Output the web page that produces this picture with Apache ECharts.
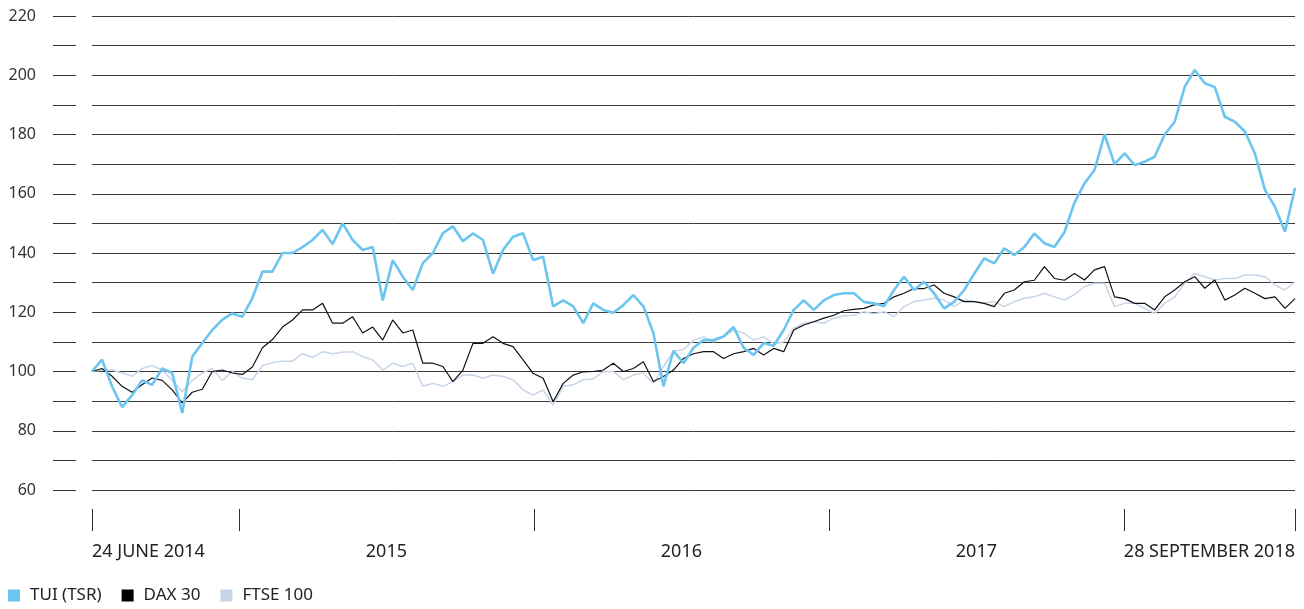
<!DOCTYPE html>
<html>
<head>
<meta charset="utf-8">
<script src="https://cdn.jsdelivr.net/npm/echarts@6/dist/echarts.min.js"></script>
<style>
  html, body { margin: 0; padding: 0; background: #fff; }
  #main { width: 1304px; height: 609px; }
</style>
</head>
<body>
<div id="main"></div>
<script>
// period covered: 24 June 2014 .. 28 September 2018, samples evenly spaced in time
var START = 2014.502;
var END = 2018.58;
var yearTicks = [START, 2015, 2016, 2017, 2018, END];
var xLabels = ['24 JUNE 2014', '2015', '2016', '2017', '28 SEPTEMBER 2018'];
var xLabelAt = [START, 2015.5, 2016.5, 2017.5, END];

// rebased to 100
var tui = [
  100, 104, 95, 88, 92, 97, 95.5, 101, 99.5, 86,
  105, 109.6, 114, 117.5, 119.6, 118.5, 124.8, 133.7, 133.7, 140,
  140, 142, 144.4, 147.8, 143, 150, 144.4, 141, 142, 124,
  137.6, 132, 127.5, 136.6, 140, 146.7, 149, 144, 146.6, 144.4,
  133, 141, 145.5, 146.7, 137.6, 138.7, 122, 124, 122, 116.3,
  123, 120.8, 119.8, 122.4, 125.8, 122, 113, 95, 107, 102.8,
  108, 110.6, 110.6, 111.8, 115, 108, 105.6, 109.6, 108.7, 114,
  120.8, 124, 120.8, 124, 125.8, 126.4, 126.4, 123.5, 123, 122,
  127.5, 132, 127.5, 130.3, 126.4, 121.3, 123.5, 127.5, 133, 138.2,
  136.5, 141.6, 139.3, 142, 146.6, 143.3, 142, 147, 157, 163.5,
  168, 180, 170, 173.6, 169.7, 170.8, 172.5, 180, 184.3, 196.1,
  201.8, 197.3, 196, 186, 184.3, 181, 173.6, 161.3, 155.6, 147.2,
  162
];
var dax = [
  100, 101, 98.4, 95, 93, 95.5, 97.8, 97, 93.8, 89.4,
  93, 94, 100, 100.5, 99.5, 99, 101.5, 108, 110.8, 115,
  117.4, 120.8, 120.8, 123, 116.3, 116.3, 118.5, 113, 115, 110.6,
  117.4, 113, 114, 102.8, 102.8, 101.7, 96.6, 100.5, 109.5, 109.5,
  111.7, 109.5, 108.4, 103.9, 99.4, 97.7, 89.8, 96, 98.8, 99.9,
  100, 100.5, 102.8, 100, 101, 103.3, 96.6, 98.3, 100.5, 104.4,
  106, 106.7, 106.7, 104.4, 106, 106.7, 107.8, 105.6, 107.8, 106.7,
  114, 115.7, 116.8, 118, 119, 120.5, 121, 121.3, 122.5, 123,
  125.2, 126.4, 128, 128, 129.2, 126.4, 125.2, 123.6, 123.6, 123,
  121.9, 126.4, 127.5, 130.3, 130.8, 135.4, 131.4, 130.8, 133.1, 130.9,
  134.3, 135.4, 125.2, 124.6, 123, 123, 120.8, 125.2, 127.5, 130.3,
  132, 128.1, 130.9, 124.1, 125.8, 128.1, 126.4, 124.6, 125.2, 121.3,
  124.6
];
var ftse = [
  100, 100.5, 100.5, 99.5, 98.4, 101, 102, 100.5, 97, 93.2,
  97, 99.5, 101, 97, 100, 97.8, 97.2, 102, 103, 103.5,
  103.5, 106, 104.8, 106.7, 106, 106.5, 106.7, 105, 103.9, 100.5,
  102.8, 101.7, 102.8, 95, 96, 95, 96.6, 98.8, 98.8, 97.7,
  98.8, 98.3, 97.2, 93.8, 92, 93.8, 88.6, 95, 95.5, 97.2,
  97.5, 100, 100, 97.2, 98.8, 99.5, 96, 101.7, 106.8, 107.4,
  110.6, 111.7, 110, 111.7, 114, 113, 110.6, 111.7, 109.4, 110,
  114.6, 116.3, 116.8, 116.3, 118, 118.8, 119, 120.2, 119.5, 120.2,
  118.5, 121.9, 123.6, 124.1, 124.7, 124.1, 121.9, 124.1, 123.6, 123,
  123.6, 121.9, 123.6, 124.7, 125.2, 126.4, 125.2, 124.1, 126, 128.6,
  129.8, 129.8, 121.9, 123, 123, 121.3, 119.6, 123, 125.2, 129.8,
  133.1, 132, 130.9, 131.4, 131.4, 132.6, 132.6, 132, 129.2, 127.5,
  130.3
];

function withTime(arr) {
  var step = (END - START) / (arr.length - 1);
  return arr.map(function (v, i) { return [START + i * step, v]; });
}

var myChart = echarts.init(document.getElementById('main'));
myChart.setOption({
  animation: false,
  textStyle: { fontFamily: 'Noto Sans' },
  grid: { left: 92, right: 9, top: 16, bottom: 119 },
  legend: {
    data: ['TUI (TSR)', 'DAX 30', 'FTSE 100'],
    left: 8, top: 587, padding: 0,
    icon: 'rect', itemWidth: 12, itemHeight: 12, itemGap: 20,
    textStyle: { fontSize: 17, color: '#222', padding: [0, 0, 0, 5] }
  },
  xAxis: {
    type: 'value', min: START, max: END, offset: 19,
    axisLine: { show: false },
    axisTick: { show: true, length: 22, customValues: yearTicks, lineStyle: { color: '#333' } },
    axisLabel: {
      customValues: xLabelAt, margin: 34, fontSize: 18, color: '#222',
      alignMinLabel: 'left', alignMaxLabel: 'right',
      formatter: function (v) {
        var best = 0;
        for (var i = 1; i < xLabelAt.length; i++) {
          if (Math.abs(xLabelAt[i] - v) < Math.abs(xLabelAt[best] - v)) best = i;
        }
        return xLabels[best];
      }
    },
    splitLine: { show: false }
  },
  yAxis: {
    type: 'value', min: 60, max: 220, interval: 10, offset: 16,
    axisLine: { show: false },
    axisTick: { show: true, length: 23, lineStyle: { color: '#333' } },
    axisLabel: {
      margin: 40, fontSize: 16, color: '#333',
      formatter: function (v) { return v % 20 === 0 ? v : ''; }
    },
    splitLine: { show: true, lineStyle: { color: '#3a3a3a', width: 1 } }
  },
  series: [
    { name: 'FTSE 100', type: 'line', showSymbol: false, data: withTime(ftse),
      itemStyle: { color: '#c8d5e8' }, lineStyle: { color: '#c8d5e8', width: 1.5 } },
    { name: 'DAX 30', type: 'line', showSymbol: false, data: withTime(dax),
      itemStyle: { color: '#000' }, lineStyle: { color: '#111', width: 1.2 } },
    { name: 'TUI (TSR)', type: 'line', showSymbol: false, data: withTime(tui),
      itemStyle: { color: '#6cc5ef' }, lineStyle: { color: '#6cc5ef', width: 2.6 } }
  ]
});
</script>
</body>
</html>
